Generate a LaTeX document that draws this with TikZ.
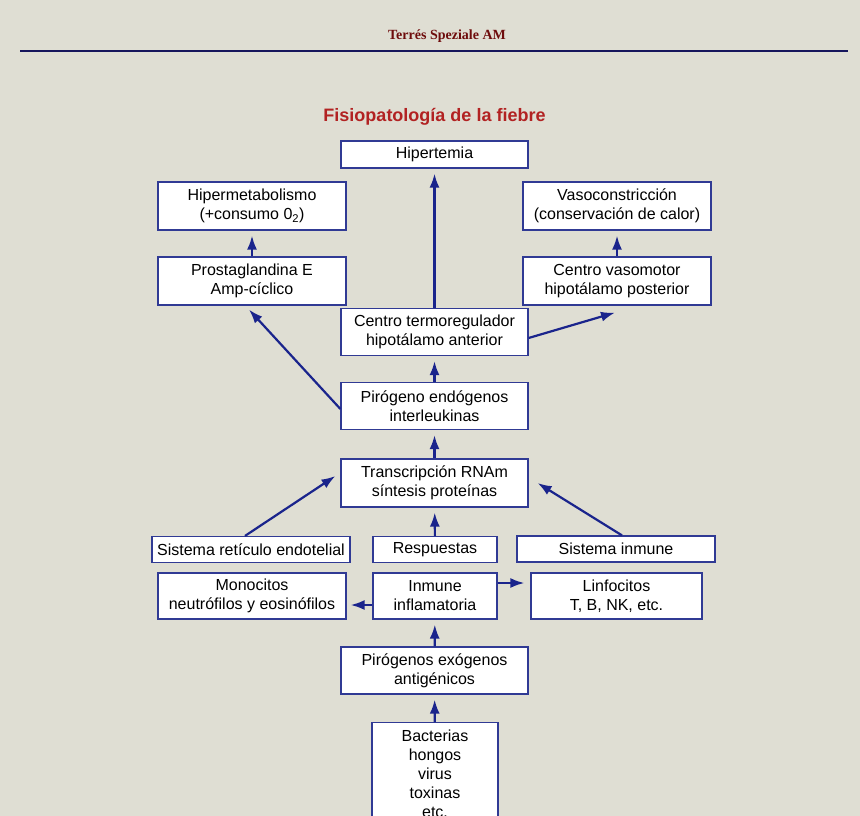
\documentclass[tikz,border=0pt]{standalone}
\usepackage{fontspec}
\setmainfont{Liberation Sans}
\newfontfamily\headfont{Liberation Serif}
\usetikzlibrary{arrows.meta}
\definecolor{paper}{RGB}{223,222,211}
\definecolor{navy}{RGB}{26,36,140}
\definecolor{boxline}{RGB}{48,58,148}
\definecolor{rule}{RGB}{22,22,92}
\definecolor{headred}{RGB}{110,12,12}
\definecolor{titlered}{RGB}{178,34,34}

\begin{document}
\begin{tikzpicture}[x=1pt, y=-1pt,
    box/.style={draw=boxline, line width=1.2pt, fill=white, align=center,
      inner sep=2pt, font=\fontsize{16}{19}\selectfont},
    arr/.style={draw=navy, line width=2.2pt, -{Latex[length=14pt,width=10pt]}},
    up/.style={arr, shorten >=5pt}]
  \path[fill=paper] (0,0) rectangle (860,816);
  \useasboundingbox (0,0) rectangle (860,816);
  \path node (head)  at (447,36) {\headfont\bfseries\fontsize{14}{16}\selectfont\color{headred}Terrés Speziale AM}
        node (title) at (434.5,117) {\bfseries\fontsize{18}{21}\selectfont\color{titlered}Fisiopatología de la fiebre};
  \draw[rule, line width=2pt] (20,51) -- (848,51);
  \path node (hiper) at (434.5,154.5) [box, minimum width=187pt, minimum height=27pt] {Hipertemia}
        node (hmet)  at (252,206)     [box, minimum width=188pt, minimum height=48pt] {Hipermetabolismo\\(+consumo 0\textsubscript{2})}
        node (vaso)  at (617,206)     [box, minimum width=188pt, minimum height=48pt] {Vasoconstricción\\(conservación de calor)}
        node (prost) at (252,281)     [box, minimum width=188pt, minimum height=48pt] {Prostaglandina E\\Amp-cíclico}
        node (cvaso) at (617,281)     [box, minimum width=188pt, minimum height=48pt] {Centro vasomotor\\hipotálamo posterior}
        node (cterm) at (434.5,332)   [box, minimum width=187pt, minimum height=47pt] {Centro termoregulador\\hipotálamo anterior}
        node (pend)  at (434.5,406)   [box, minimum width=187pt, minimum height=47pt] {Pirógeno endógenos\\interleukinas}
        node (trans) at (434.5,483)   [box, minimum width=187pt, minimum height=48pt] {Transcripción RNAm\\síntesis proteínas}
        node (sre)   at (251,549.5)   [box, minimum width=198pt, minimum height=26pt] {Sistema retículo endotelial}
        node (resp)  at (435,549.5)   [box, minimum width=124pt, minimum height=26pt] {Respuestas}
        node (sinm)  at (616,549)     [box, minimum width=198pt, minimum height=26pt] {Sistema inmune}
        node (mono)  at (252,596)     [box, minimum width=188pt, minimum height=46pt] {Monocitos\\neutrófilos y eosinófilos}
        node (infl)  at (435,596)     [box, minimum width=124pt, minimum height=46pt] {Inmune\\inflamatoria}
        node (linf)  at (616.5,596)   [box, minimum width=171pt, minimum height=46pt] {Linfocitos\\T, B, NK, etc.}
        node (pexo)  at (434.5,670.5) [box, minimum width=187pt, minimum height=47pt] {Pirógenos exógenos\\antigénicos}
        node (bact)  at (435,722)     [box, anchor=north, minimum width=126pt, inner ysep=7pt] {Bacterias\\hongos\\virus\\toxinas\\etc.};
  \draw[up] (cterm) -- (hiper);
  \draw[up] (prost) -- (hmet);
  \draw[up] (cvaso) -- (vaso);
  \draw[arr] ([yshift=-6pt]cterm.east) -- ([xshift=-2pt,yshift=-7pt]cvaso.south);
  \draw[arr] ([yshift=-3pt]pend.west) -- ([xshift=-3pt,yshift=-4pt]prost.south);
  \draw[up] (pend) -- (cterm);
  \draw[up] (trans) -- (pend);
  \draw[arr] ([xshift=-6pt]sre.north) -- ([xshift=-5pt,yshift=7pt]trans.west);
  \draw[up] (resp) -- (trans);
  \draw[arr] ([xshift=6pt]sinm.north) -- ([xshift=9pt]trans.east);
  \draw[arr] ([yshift=-9pt]infl.west) -- ([xshift=4pt,yshift=-9pt]mono.east);
  \draw[arr] ([yshift=13pt]infl.east) -- ([xshift=-6pt,yshift=13pt]linf.west);
  \draw[up] (pexo) -- (infl);
  \draw[up] (bact) -- (pexo);
\end{tikzpicture}
\end{document}
